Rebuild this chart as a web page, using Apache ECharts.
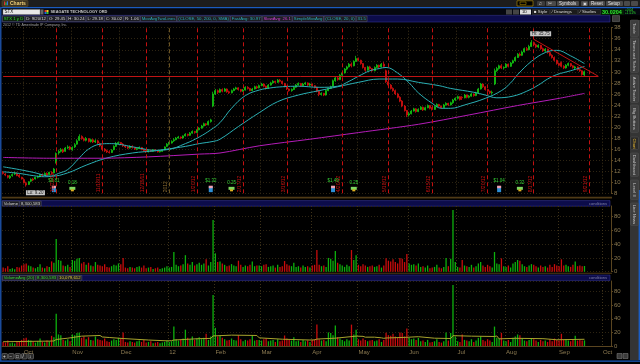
<!DOCTYPE html>
<html><head><meta charset="utf-8">
<script src="https://cdn.jsdelivr.net/npm/echarts@6/dist/echarts.min.js"></script>
<style>html,body{margin:0;padding:0;background:#000;overflow:hidden}#c{width:640px;height:364px}</style>
</head><body><div id="c"></div>
<script>
// ---------- DATA ----------
const holidays = ['2011-11-24','2011-12-26','2012-01-02','2012-01-16','2012-02-20','2012-04-06','2012-05-28','2012-07-04','2012-09-03'];
function tradingDays(start, end) {
  const out = [], d = new Date(start + 'T00:00:00Z'), e = new Date(end + 'T00:00:00Z');
  while (d <= e) {
    const wd = d.getUTCDay(), s = d.toISOString().slice(0, 10);
    if (wd !== 0 && wd !== 6 && holidays.indexOf(s) < 0) out.push(s);
    d.setUTCDate(d.getUTCDate() + 1);
  }
  return out;
}
const categories = tradingDays('2011-09-20', '2012-10-04');
const monthNames = ['Jan','Feb','Mar','Apr','May','Jun','Jul','Aug','Sep','Oct','Nov','Dec'];
const priceTicks = {min: 8, max: 38, step: 2};

// [open, close, low, high]
const ohlc = [
[11.8,11.6,11.4,12.0],[11.5,11.3,11.1,11.7],[11.2,10.9,10.7,11.3],[10.8,11.1,10.6,11.3],[11.2,11.4,11.0,11.6],
[11.5,11.6,11.3,11.9],[11.6,11.2,11.1,11.8],[11.3,11.0,10.8,11.5],[10.9,10.6,10.5,11.0],
[10.5,9.9,9.8,10.7],[9.8,9.5,9.2,10.1],[9.6,10.1,9.5,10.2],[10.2,10.5,10.0,10.7],[10.6,10.4,10.2,10.8],
[10.6,10.9,10.5,11.0],[10.9,11.0,10.7,11.2],[11.0,11.4,10.9,11.5],[11.4,11.2,11.0,11.6],[11.3,11.6,11.2,11.8],
[11.6,11.3,11.2,11.8],[11.4,11.8,11.3,11.9],[11.8,11.6,11.4,12.0],[11.7,12.4,11.6,12.6],[13.5,15.2,13.4,15.4],
[15.3,15.6,15.0,15.9],[15.6,15.9,15.4,16.2],[15.9,15.5,15.3,16.1],[15.6,16.2,15.5,16.4],[16.2,16.4,16.0,16.7],[16.4,16.0,15.8,16.6],
[15.9,16.3,15.7,16.5],[16.4,16.8,16.2,17.1],[16.9,17.5,16.8,17.8],[17.6,18.3,17.5,18.7],[18.3,17.9,17.7,18.5],
[17.9,17.6,17.4,18.1],[17.6,17.9,17.4,18.2],[17.9,17.4,17.2,18.0],[17.4,17.7,17.2,17.9],[17.7,17.3,17.1,17.9],
[17.3,17.5,17.1,17.8],[17.5,17.1,16.9,17.7],[17.0,16.6,16.4,17.2],[16.6,16.0,15.9,16.8],[16.0,15.7,15.5,16.2],
[15.7,15.5,15.3,15.9],[15.5,15.4,15.2,15.8],[15.4,15.8,15.3,16.0],[15.9,16.5,15.8,16.7],[16.5,17.0,16.4,17.3],
[17.0,17.2,16.8,17.4],[17.2,16.9,16.7,17.3],[16.9,16.6,16.4,17.1],[16.6,16.4,16.2,16.8],[16.4,16.2,16.0,16.6],
[16.2,16.5,16.1,16.7],[16.5,16.3,16.1,16.7],[16.3,16.0,15.9,16.4],[16.0,16.1,15.8,16.3],[16.1,16.3,16.0,16.5],
[16.3,15.9,15.8,16.4],[15.9,15.7,15.5,16.0],[15.7,15.5,15.3,15.8],[15.5,15.8,15.4,15.9],[15.8,15.6,15.5,15.9],
[15.6,15.9,15.5,16.0],[15.9,15.7,15.6,16.0],[15.7,15.5,15.4,15.8],[15.5,15.6,15.4,15.8],[15.6,15.8,15.5,15.9],[15.9,16.4,15.8,16.5],
[16.5,16.9,16.4,17.1],[16.9,17.1,16.8,17.3],[17.1,17.4,17.0,17.6],[17.5,17.7,17.3,18.0],[17.7,18.0,17.6,18.2],
[18.0,18.2,17.9,18.4],[18.2,18.0,17.8,18.3],[18.0,18.4,17.9,18.5],[18.4,18.7,18.3,18.9],[18.7,18.5,18.3,18.8],
[18.5,18.9,18.4,19.1],[18.9,19.2,18.8,19.4],[19.2,19.0,18.8,19.3],[19.0,19.5,18.9,19.6],[19.5,19.8,19.4,20.0],
[19.8,20.2,19.7,20.4],[20.2,20.6,20.1,20.8],[20.6,20.4,20.2,20.7],[20.4,21.0,20.3,21.2],[21.0,21.3,20.8,21.5],
[23.8,26.0,23.6,26.4],[26.0,26.6,25.8,26.9],[26.6,26.3,26.0,26.8],[26.3,26.8,26.2,27.0],[26.8,26.5,26.3,27.0],
[26.5,26.9,26.4,27.1],[26.9,26.4,26.2,27.0],[26.4,26.2,26.0,26.6],[26.2,26.6,26.1,26.8],[26.6,26.9,26.5,27.1],
[26.9,27.1,26.8,27.3],[27.1,26.8,26.6,27.2],[26.8,26.5,26.3,26.9],[26.5,26.7,26.4,26.9],[26.7,27.2,26.6,27.4],
[27.2,27.0,26.8,27.4],[27.0,26.6,26.5,27.1],[26.6,26.9,26.5,27.1],[26.9,27.3,26.8,27.5],[27.3,27.1,26.9,27.5],
[27.1,27.5,27.0,27.7],[27.5,27.8,27.4,28.0],[27.8,27.4,27.2,27.9],[27.4,27.0,26.8,27.5],[27.0,27.6,26.9,27.8],
[27.6,28.0,27.5,28.2],[28.0,28.3,27.9,28.5],[28.3,28.1,27.9,28.4],[28.1,28.5,28.0,28.7],[28.5,28.3,28.1,28.7],
[28.3,27.9,27.7,28.4],[27.9,27.4,27.2,28.0],[27.4,26.9,26.7,27.5],[26.9,26.6,26.4,27.0],[26.6,26.8,26.4,27.0],
[26.8,27.2,26.7,27.4],[27.2,27.6,27.1,27.8],[27.6,27.9,27.5,28.1],[27.9,27.5,27.3,28.0],[27.5,27.8,27.4,28.0],
[27.8,28.0,27.6,28.2],[28.0,27.6,27.4,28.1],
[27.6,27.8,27.4,28.0],[27.8,27.5,27.3,27.9],[27.5,27.2,27.0,27.6],[27.2,26.5,26.3,27.3],[26.5,25.9,25.6,26.6],
[25.9,26.1,25.7,26.3],[26.1,25.8,25.6,26.2],[25.8,26.6,25.7,26.8],[26.6,27.0,26.5,27.2],[27.0,27.3,26.9,27.5],
[27.4,28.4,27.3,28.6],[28.4,28.9,28.2,29.2],[28.9,28.6,28.4,29.1],[28.6,29.4,28.5,29.6],[29.4,29.8,29.2,30.0],
[29.8,30.5,29.7,30.7],[30.5,30.9,30.3,31.1],[30.9,31.4,30.8,31.6],[31.4,31.1,30.8,31.7],[31.1,31.9,31.0,32.1],
[31.9,32.4,31.8,32.9],[32.4,32.1,31.9,32.6],[32.1,31.5,31.3,32.2],[31.5,30.8,30.6,31.6],[30.8,30.3,30.0,30.9],
[30.3,30.9,30.2,31.1],[30.9,30.6,30.4,31.1],[30.6,30.2,30.0,30.7],[30.2,30.8,30.1,31.0],[30.8,31.2,30.7,31.4],
[31.2,30.9,30.7,31.3],[30.9,31.4,30.8,31.6],[31.4,31.0,30.8,31.8],[30.2,28.2,28.0,30.4],[28.2,27.6,27.3,28.5],
[27.6,27.0,26.8,27.8],[27.0,26.6,26.4,27.2],[26.6,26.0,25.8,26.8],[26.0,25.4,25.2,26.2],[25.4,24.7,24.5,25.6],
[24.7,23.8,23.6,24.9],[23.8,23.0,22.8,24.0],
[23.0,22.2,21.8,23.1],[22.2,22.4,21.9,22.7],[22.4,22.9,22.3,23.1],[22.9,23.3,22.8,23.5],[23.3,22.8,22.6,23.4],
[22.8,23.2,22.7,23.4],[23.2,23.6,23.1,23.8],[23.6,23.1,22.9,23.7],[23.1,23.5,23.0,23.7],[23.5,23.9,23.4,24.1],
[23.9,23.4,23.2,24.0],[23.4,23.2,23.0,23.6],[23.2,23.7,23.1,23.9],[23.7,24.1,23.6,24.3],[24.1,23.8,23.6,24.2],
[23.8,23.5,23.3,23.9],[23.5,24.0,23.4,24.2],[24.0,24.3,23.9,24.5],[24.3,24.0,23.8,24.4],[24.0,24.4,23.9,24.6],[24.4,24.9,24.2,25.1],
[24.9,25.2,24.7,25.4],[25.2,25.5,25.0,25.7],[25.5,25.0,24.8,25.6],[25.4,25.3,24.9,25.6],[25.3,25.8,25.2,26.0],
[25.8,25.4,25.2,25.9],[25.4,25.6,25.2,25.8],[25.6,26.0,25.5,26.2],[26.0,25.7,25.5,26.1],[25.7,26.2,25.6,26.4],
[26.2,26.9,26.1,27.1],[26.9,27.8,26.8,28.0],[27.8,27.3,27.1,27.9],[27.3,26.8,26.6,27.4],[26.8,26.5,26.2,26.9],
[26.5,26.2,26.0,26.6],[26.2,26.3,25.9,26.6],[27.8,30.2,27.6,30.6],[30.2,30.6,30.0,30.9],[30.6,31.1,30.4,31.3],[31.1,30.7,30.5,31.4],
[30.7,30.8,30.4,31.0],[30.8,31.4,30.7,31.6],[31.4,31.0,30.8,31.5],[31.0,31.6,30.9,31.8],[31.6,32.0,31.5,32.2],
[32.0,32.6,31.9,32.8],[32.6,33.2,32.5,33.4],[33.2,33.0,32.8,33.5],[33.0,33.6,32.9,33.8],[33.6,34.2,33.5,34.4],
[34.2,34.0,33.8,34.5],[34.0,34.6,33.9,34.9],[34.6,35.3,34.5,35.75],[35.3,34.9,34.7,35.5],[34.9,34.5,34.3,35.1],
[34.5,34.8,34.3,35.0],[34.8,34.2,34.0,34.9],[34.2,33.8,33.6,34.4],[33.8,34.1,33.6,34.3],[34.1,33.5,33.3,34.2],
[33.5,33.0,32.8,33.7],[33.0,32.6,32.4,33.2],[32.6,32.1,31.9,32.8],
[32.1,31.5,31.3,32.2],[31.5,31.2,31.0,31.7],[31.7,31.0,30.8,31.9],[31.0,30.7,30.5,31.2],[30.7,31.2,30.6,31.4],
[31.2,31.5,31.0,31.7],[31.5,31.1,30.9,31.6],[31.1,30.8,30.6,31.2],[30.7,30.9,30.5,31.1],[30.9,30.4,30.2,31.0],
[30.4,30.2,30.0,30.6],[30.2,29.5,29.3,30.3],[29.45,30.02,29.18,30.24]
];

// volume, millions
const volSep11 = [6,5,8,4,5,3.5,7,6,9];
const volOct11 = [11,12,9,8,6,5,7,11,6,5,8,7,15,13,47.6,17,16,9,8,10,7];
const volNov11 = [17,16,19,20,12,14,10,13,9,8,14,10,9,8,11,7,6,8,10,9];
const volDec11 = [12,11,20,6,5,7,6,5,7,8,6,9,5,6,7,4,5,6,4,5,6];
const volJan12 = [8,6,7,28.6,10,8,9,11,24,12,10,14,9,11,13,10,12,18,9,14];
const volFeb12 = [75,26.7,14,15,12,10,8,9,11,9,8,16,10,7,9,8,10,15,8,9];
const volMar12 = [9,8,10,11,7,8,9,6,10,7,8,15.5,11,9,8,13,7,8,6,9,7,8];
const volApr12 = [6,9,10,31.5,10,8,9,7,20,19,16,30,13,11,9,7,10,8,31.5,17];
const volMay12 = [24,10,8,11,9,7,8,9,7,8,10,6,9,19.4,16,15,18,14,12,20,19,14];
const volJun12 = [25.7,12,10,11,9,12,7,8,6,9,5,6,7,10,6,5,7,20,8,19,89.7];
const volJul12 = [14,7,6,17,9,8,7,10,6,8,12,14,9,7,10,8,6,28.6,12,11,19.4];
const volAug12 = [8,7,9,6,12,14,17,16,11,8,7,9,11,10,8,6,9,7,8,6,10,7,11];
const volSep12 = [9,8,18,9,10,8,7,10,15,8,9,8,8.3];
const volumes = [].concat(volSep11,volOct11,volNov11,volDec11,volJan12,volFeb12,volMar12,volApr12,volMay12,volJun12,volJul12,volAug12,volSep12);

// moving averages: [day index, value]
const sma20 = [[0,11.9],[7,11.6],[13,11.2],[18,11.0],[21,11.1],[24,11.6],[28,12.3],[33,14.4],[37,16.0],[42,16.9],[46,17.0],[50,16.9],[55,16.5],[59,16.2],[65,15.8],[71,15.9],[79,17.0],[85,18.2],[90,19.5],[94,20.8],[99,23.4],[105,25.7],[111,26.7],[116,27.1],[121,27.3],[128,27.4],[137,27.2],[145,27.4],[150,28.3],[154,29.2],[159,30.2],[163,30.6],[166,30.8],[171,29.8],[176,28.0],[180,26.2],[186,24.3],[190,23.4],[194,23.4],[200,24.0],[209,25.2],[216,26.6],[220,28.0],[223,29.5],[229,31.9],[235,33.5],[240,33.9],[246,32.9],[252,31.5]];
const sma50 = [[0,12.8],[7,12.3],[13,11.8],[21,11.1],[28,11.7],[36,13.1],[45,14.4],[56,15.3],[66,15.7],[71,16.0],[79,16.5],[85,17.0],[91,17.4],[94,17.8],[102,20.1],[111,22.6],[119,24.6],[128,25.8],[137,26.6],[145,27.3],[154,28.1],[163,28.7],[171,28.7],[180,28.1],[189,27.5],[194,27.0],[204,26.3],[209,25.8],[214,25.3],[221,25.6],[227,26.5],[232,27.6],[236,28.7],[240,29.5],[246,30.2],[252,30.97]];
const sma200 = [[0,14.5],[20,14.35],[42,14.35],[63,14.6],[85,15.1],[94,15.3],[111,16.6],[133,17.8],[154,19.0],[180,20.5],[202,22.2],[223,23.9],[241,25.2],[252,26.1]];
const volAvg = [[0,6.3],[20,7.2],[22,7.4],[23,9.6],[28,11.5],[34,14.5],[42,15.5],[43,13.3],[46,12.5],[52,11.0],[63,8.8],[71,7.6],[73,7.8],[74,8.8],[85,10.8],[90,11.2],[91,14.8],[99,16.0],[110,15.5],[111,12.0],[121,10.0],[133,8.8],[135,9.0],[136,10.2],[144,11.5],[153,14.5],[156,14.2],[157,13.0],[161,13.0],[164,12.0],[165,11.3],[166,11.8],[175,12.8],[180,13.7],[187,11.5],[194,11.0],[195,15.2],[203,14.5],[213,14.0],[214,14.8],[215,10.5],[222,11.3],[234,10.8],[240,9.2],[252,9.9]];

const expirations = ['2011-10-21','2011-11-18','2011-12-16','2012-01-20','2012-02-17','2012-03-16','2012-04-20','2012-05-18','2012-06-15','2012-07-20','2012-08-17','2012-09-21'];
const earnings = [[22,'$0.81'],[90,'$1.32'],[143,'$1.49'],[215,'$1.04']];
const dividends = [[30,'0.18'],[99,'0.25'],[152,'0.25'],[224,'0.32']];
const lastValues = {close: 30.02, fast: 30.97, slow: 26.1, volume: 8.3};

// ---------- CHART ----------
const FONT = '"Liberation Sans", Arial, sans-serif';
const cv = document.createElement('canvas').getContext('2d');
function tw(t, s) { cv.font = s + 'px ' + FONT; return cv.measureText(t).width; }
const isMonthStart = (i) => i > 0 && categories[i].slice(5, 7) !== categories[i - 1].slice(5, 7);
const monthLabel = (v) => { const m = +v.slice(5, 7); return m === 1 ? v.slice(2, 4) : monthNames[m - 1]; };
const expLabel = (d) => (+d.slice(5, 7)) + '/' + (+d.slice(8, 10)) + '/' + d.slice(2, 4);

const GREEN = '#12c412', RED = '#d41010', CYAN = '#2aafb4', MAG = '#b41cb8', BROWN = '#5a4520', TAN = '#8d7b52';
const GRID_W = 609;
const grids = [
  {left: 2, top: 27.7, width: GRID_W, height: 165.6},
  {left: 2, top: 206, width: GRID_W, height: 65.7},
  {left: 2, top: 281, width: GRID_W, height: 65}
];
const xAxes = grids.map((g, i) => ({
  type: 'category', gridIndex: i, data: categories, boundaryGap: true,
  axisLine: {show: i === 2, lineStyle: {color: BROWN}},
  axisTick: {show: false},
  axisLabel: {show: i === 2, interval: (idx) => isMonthStart(idx), formatter: monthLabel, color: TAN, fontSize: 6, fontFamily: FONT, align: 'left', margin: 3},
  splitLine: {show: true, interval: (idx) => isMonthStart(idx), lineStyle: {color: '#3e3219', type: [1, 2], width: 1}}
}));
const yBase = {
  type: 'value', position: 'right',
  axisLine: {show: true, lineStyle: {color: BROWN}},
  axisTick: {show: true, length: 2, lineStyle: {color: BROWN}},
  axisLabel: {color: TAN, fontSize: 6, fontFamily: FONT, margin: 3, showMaxLabel: false},
  splitLine: {show: true, lineStyle: {color: '#2d2412', type: [1, 2]}}
};
const yAxes = [
  Object.assign({}, yBase, {gridIndex: 0, min: priceTicks.min, max: priceTicks.max, interval: priceTicks.step, axisLabel: Object.assign({}, yBase.axisLabel, {showMaxLabel: true})}),
  Object.assign({}, yBase, {gridIndex: 1, min: 0, max: 95.5, interval: 20}),
  Object.assign({}, yBase, {gridIndex: 2, min: 0, max: 95.7, interval: 20})
];

const volData = volumes.map((v, i) => ({value: v, itemStyle: {color: ohlc[i][1] >= ohlc[i][0] ? '#0db00d' : '#c80c0c'}}));
const boxLabel = (bg, txt) => ({show: true, position: 'end', distance: 1, formatter: txt, backgroundColor: bg, color: '#000', fontSize: 4.5, fontFamily: FONT, padding: [1, 1.5, 0.5, 1.5], borderRadius: 1});
const hiddenLine = {opacity: 0, width: 0};

const markPts = [
  {coord: [categories[233], 36.9], symbol: 'rect', symbolSize: [21, 5], itemStyle: {color: '#c4c4c4'}, label: {show: true, position: 'inside', formatter: 'Hi: 35.75', color: '#222', fontSize: 4.5, fontFamily: FONT}},
  {coord: [categories[14], 8.1], symbol: 'rect', symbolSize: [19, 5], itemStyle: {color: '#c4c4c4'}, label: {show: true, position: 'inside', formatter: 'Lo: 9.20', color: '#222', fontSize: 4.5, fontFamily: FONT}}
];
earnings.forEach(([i, t]) => {
  markPts.push({coord: [categories[i], 8.75], symbol: 'rect', symbolSize: [4, 6], itemStyle: {color: '#2c8fd6'}, label: {show: true, position: 'top', distance: 2.5, formatter: t, color: '#35d035', fontSize: 4.5, fontFamily: FONT}});
  markPts.push({coord: [categories[i], 8.75], symbol: 'rect', symbolSize: [4, 2.5], symbolOffset: [0, -2.2], itemStyle: {color: '#f0a0b0'}, label: {show: false}});
});
dividends.forEach(([i, t]) => {
  markPts.push({coord: [categories[i], 8.9], symbol: 'rect', symbolSize: [6, 3], itemStyle: {color: '#7ed860'}, label: {show: true, position: 'top', distance: 1.5, formatter: t, color: '#35d035', fontSize: 4.5, fontFamily: FONT}});
  markPts.push({coord: [categories[i], 8.9], symbol: 'rect', symbolSize: [3, 2], symbolOffset: [0, 2], itemStyle: {color: '#e0b020'}, label: {show: false}});
});

const mlData = expirations.map(d => ({xAxis: d, label: {formatter: expLabel(d)}}));
mlData.push({xAxis: '2012-01-03', lineStyle: {color: '#6b5424', type: [4, 3]}, label: {formatter: '2012', color: '#8a6a30'}});
mlData.push([{coord: [categories[0], 29.2], lineStyle: {type: 'solid', color: '#c01414'}, label: {show: false}}, {coord: [categories[258], 29.2]}]);
mlData.push([{coord: [categories[230], 35.9], lineStyle: {type: 'solid', color: '#c01414'}, label: {show: false}}, {coord: [categories[258], 29.2]}]);
mlData.push({yAxis: lastValues.close, lineStyle: hiddenLine, label: boxLabel('#2ad62a', '30.02')});

// ---------- chrome ----------
const G = [];
function rect(x, y, w, h, fill, stroke, r) { G.push({type: 'rect', silent: true, shape: {x, y, width: w, height: h, r: r || 0}, style: {fill, stroke: stroke || null, lineWidth: 0.5}}); }
function text(x, y, t, fill, size, opts) { G.push(Object.assign({type: 'text', silent: true, x, y, style: Object.assign({text: t, fill, font: (opts && opts.bold ? 'bold ' : '') + size + 'px ' + FONT, verticalAlign: 'middle', align: 'left'}, opts && opts.style)}, opts && opts.el)); }
function boxes(items, x0, y, h, size) {
  let x = x0;
  items.forEach(([t, c, bg]) => {
    const w = tw(t, size) + 2.4;
    rect(x, y, w, h, bg || '#1d1d24', '#5a5a70');
    text(x + 1.2, y + h / 2 + 0.3, t, c, size);
    x += w + 0.5;
  });
}
// top bar
rect(0, 0, 640, 7, '#1d1d1d');
rect(2, 0.5, 26, 6, '#3b3322', '#6a5a30', 1);
rect(4, 1.6, 1.2, 3.6, '#e03030'); rect(5.4, 2.4, 1.2, 2.8, '#30c030'); rect(6.8, 1.2, 1.2, 4, '#3070e0');
text(10, 3.7, 'Charts', '#f2d27a', 5, {bold: true});
rect(517, 0.8, 16, 5.2, '#000', '#e0b000');
rect(520, 2, 6, 2.6, '#000', '#caa000');
rect(537, 1, 8, 5, '#3a3a3a', null, 1); text(538.5, 3.6, '\u266B', '#ddd', 4.5);
rect(546, 1, 10, 5, '#4a4a4a', null, 1); text(547.5, 3.6, '\u2702', '#ddd', 4.5);
rect(557, 1, 22, 5, '#4a4a4a', null, 1); text(559, 3.6, 'Symbols', '#e4e4e4', 4.5);
rect(581, 1, 7, 5, '#4a4a4a', null, 1); text(582.5, 3.6, '\u25A3', '#ddd', 4);
rect(589, 1, 16, 5, '#4a4a4a', null, 1); text(591, 3.6, 'Reset', '#e4e4e4', 4.5);
rect(606, 1, 17, 5, '#4a4a4a', null, 1); text(608, 3.6, 'Setup', '#e4e4e4', 4.5);
rect(624, 1, 6, 5, '#4a4a4a', null, 1); rect(631, 1, 7, 5, '#4a4a4a', null, 1);
rect(0, 7, 640, 1.6, '#1b5cc0');
// row 2
rect(0, 8.6, 640, 6.6, '#05070f');
rect(3, 9.5, 37, 5, '#e8e8e8', '#888');
text(4.5, 12.2, 'STX', '#000', 4.5);
rect(40.5, 9.5, 3, 5, '#666'); rect(44.5, 10, 2, 2, '#e03030'); rect(46.5, 10, 2, 2, '#f0d020'); rect(44.5, 12, 2, 2, '#2060e0'); rect(46.5, 12, 2, 2, '#30c030');
text(50.5, 12.2, 'SEAGATE TECHNOLOGY ORD', '#c8c8c8', 3.9, {bold: true});
rect(506, 9.5, 6, 5, '#444'); rect(513, 9.5, 6, 5, '#444');
rect(520, 9.5, 11, 5, '#dcdcdc'); text(522, 12.2, '1D', '#000', 4);
rect(532.5, 9.5, 17, 5, '#1c1c1c', '#444'); text(534, 12.2, '\u25A0 Style', '#ddd', 4.3);
rect(550.5, 9.5, 27, 5, '#1c1c1c', '#444'); text(552, 12.2, '\u2215 Drawings', '#ddd', 4.3);
rect(578.5, 9.5, 22, 5, '#1c1c1c', '#444'); text(580, 12.2, '\u2215 Studies', '#ddd', 4.3);
rect(601, 9.3, 23, 5.6, '#042004'); text(602, 12.3, '30.0204', '#2fe82f', 5.5, {bold: true});
text(625, 10.6, '+0.04', '#2fe82f', 3.2); text(625, 13.6, '+1.51%', '#2fe82f', 3.2);
// header of price panel
rect(2, 15.4, 608, 6.6, '#0c0c4a', '#3a3aa2');
boxes([
  ['STX 1 y D', '#36d636', '#0f200f'], ['D: 9/20/12', '#d8d8d8'], ['O: 29.45', '#d8d8d8'], ['H: 30.24', '#d8d8d8'],
  ['L: 29.18', '#d8d8d8'], ['C: 30.02', '#d8d8d8'], ['R: 1.06', '#d8d8d8'],
  ['MovAvgTwoLines', CYAN], ['(CLOSE, 50, 200, 0, SMA)', CYAN], ['FastAvg: 30.97', CYAN], ['SlowAvg: 26.1', '#d040d0'],
  ['SimpleMovAvg', CYAN], ['(CLOSE, 20, 0)', CYAN], ['31.5', CYAN]
], 2.5, 16, 5.6, 4.3);
rect(612.5, 15.6, 7, 6, '#3a3a3a', '#777');
text(3, 25.2, '2012 \u00A9 TD Ameritrade IP Company, Inc.', '#a0a0a0', 3.6);
// separators and volume header
rect(2, 196.8, 610, 1.6, '#4f3a16');
rect(2, 200.6, 608, 5.6, '#0c0c4a', '#3a3aa2');
boxes([['Volume', '#d8d8d8'], ['8,300,583', '#d8d8d8']], 2.5, 201.1, 4.8, 4.3);
text(589, 203.5, 'conditions', '#8080a8', 4);
rect(2, 272.8, 610, 1, '#4f3a16');
rect(2, 275, 608, 5.6, '#0c0c4a', '#3a3aa2');
boxes([['VolumeAvg (20)', '#36d636'], ['8,300,583', '#36d636'], ['10,079,612', '#e0d040']], 2.5, 275.5, 4.8, 4.3);
text(589, 277.9, 'conditions', '#8080a8', 4);
// bottom toolbar
['+', '\u2212', '\u25A1', '/', '\u2195'].forEach((s, k) => { rect(2 + k * 6.5, 353.5, 5.5, 5.5, '#2a2a2a', '#8a8a8a', 1); text(3 + k * 6.5, 356.4, s, '#eee', 4.5); });
rect(617, 353.5, 5, 5, '#3a3a3a', '#888'); rect(623, 353.5, 5, 5, '#3a3a3a', '#888');
rect(0, 360.6, 640, 1.2, '#1b5cc0');
rect(0, 7, 1.5, 354, '#1a4a9a');
// sidebar
rect(630, 20, 10, 340, '#343434');
rect(638.6, 190, 1.4, 170, '#1b5cc0');
[['Trade', 20, 37], ['Times and Sales', 38, 73], ['Active Trader', 75, 103], ['Big Buttons', 105, 133], ['Chart', 137, 150], ['Dashboard', 153, 177], ['Level II', 180, 200], ['Live News', 203, 226]].forEach(([t, a, b]) => {
  rect(630.5, a, 8, b - a - 0.6, t === 'Chart' ? '#2a2a2a' : '#3e3e3e', '#555', 1);
  G.push({type: 'text', silent: true, x: 634.5, y: (a + b) / 2, rotation: -Math.PI / 2, style: {text: t, fill: t === 'Chart' ? '#e8b830' : '#c4c4c4', font: '4.2px ' + FONT, align: 'center', verticalAlign: 'middle'}});
});

const chart = echarts.init(document.getElementById('c'), null, {renderer: 'canvas'});
chart.setOption({
  backgroundColor: '#000',
  animation: false,
  grid: grids,
  xAxis: xAxes,
  yAxis: yAxes,
  graphic: G,
  series: [
    {type: 'candlestick', xAxisIndex: 0, yAxisIndex: 0, data: ohlc, barWidth: 1.5,
     itemStyle: {color: GREEN, color0: RED, borderColor: GREEN, borderColor0: RED, borderWidth: 0.8},
     markLine: {symbol: ['none', 'none'], silent: true, animation: false, precision: 2,
       lineStyle: {color: '#c41010', type: [4, 3], width: 1},
       label: {show: true, position: 'insideStartTop', fontSize: 5, color: '#c41010', fontFamily: FONT, distance: 1},
       data: mlData},
     markPoint: {silent: true, animation: false, data: markPts}},
    {type: 'line', xAxisIndex: 0, yAxisIndex: 0, data: sma20, symbol: 'none', smooth: 0.4, lineStyle: {color: CYAN, width: 1}, z: 3},
    {type: 'line', xAxisIndex: 0, yAxisIndex: 0, data: sma50, symbol: 'none', smooth: 0.4, lineStyle: {color: CYAN, width: 1}, z: 3,
     markLine: {symbol: ['none', 'none'], silent: true, data: [{yAxis: lastValues.fast, lineStyle: hiddenLine, label: boxLabel('#36d4dc', '30.97')}]}},
    {type: 'line', xAxisIndex: 0, yAxisIndex: 0, data: sma200, symbol: 'none', smooth: 0.3, lineStyle: {color: MAG, width: 1}, z: 3,
     markLine: {symbol: ['none', 'none'], silent: true, data: [{yAxis: lastValues.slow, lineStyle: hiddenLine, label: boxLabel('#e040e8', '26.1')}]}},
    {type: 'bar', xAxisIndex: 1, yAxisIndex: 1, data: volData, barWidth: 1.3},
    {type: 'bar', xAxisIndex: 2, yAxisIndex: 2, data: volData, barWidth: 1.3,
     markLine: {symbol: ['none', 'none'], silent: true, data: [{yAxis: lastValues.volume, lineStyle: hiddenLine, label: Object.assign(boxLabel('#2ad62a', '8,300,583'), {fontSize: 3.8})}]}},
    {type: 'line', xAxisIndex: 2, yAxisIndex: 2, data: volAvg, symbol: 'none', lineStyle: {color: '#a8a42c', width: 1}, z: 3}
  ]
});
</script>
</body></html>
